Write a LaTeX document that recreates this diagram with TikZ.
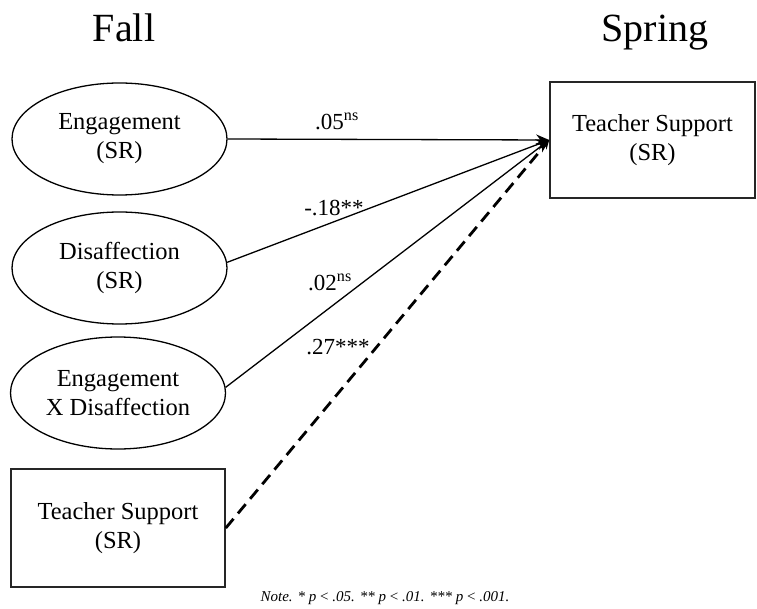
\documentclass[tikz,border=0pt]{standalone}
\usepackage{fontspec}
\setmainfont{Liberation Serif}
\usetikzlibrary{arrows.meta,shapes.geometric}
\begin{document}
\begin{tikzpicture}[x=1pt,y=-1pt,
  lat/.style={draw=black, line width=1.3pt, ellipse, minimum width=215pt, minimum height=112pt,
    inner sep=0pt, align=center, font=\fontsize{24.5}{29}\selectfont},
  obs/.style={draw=black!85, line width=1.6pt, rectangle, inner sep=0pt, align=center,
    font=\fontsize{24.5}{29}\selectfont},
  conn/.style={line width=1.3pt, -{Stealth[length=13pt,width=11pt]}},
  dconn/.style={line width=2.8pt, dash pattern=on 12pt off 7pt, -{Stealth[length=9pt,width=8pt]}},
  lbl/.style={inner sep=0pt, font=\fontsize{23}{27}\selectfont},
  ttl/.style={anchor=base, inner sep=0pt, font=\fontsize{40}{48}\selectfont}]
\useasboundingbox (0,0) rectangle (757,609);
\node[ttl] (fall) at (124,42) {Fall};
\node[ttl] (spring) at (655,42) {Spring};
\node[lat] (e1) at (119.5,139) {Engagement\\(SR)};
\node[lat] (e2) at (119.5,268) {Disaffection\\(SR)};
\node[lat] (e3) at (118,393) {Engagement\\X Disaffection};
\node[obs, minimum width=214pt, minimum height=118pt] (ts1) at (118,528) {Teacher Support\\(SR)};
\node[obs, minimum width=205pt, minimum height=116pt] (ts2) at (652.5,140) {Teacher Support\\(SR)};
\draw[conn] (e1.east) -- (ts2.west);
\draw[conn] (e2.3) -- (ts2.west);
\draw[conn] (e3.3) -- (ts2.west);
\draw[dconn] (ts1.east) -- (ts2.west);
\node[lbl] (l1) at (337,121) {.05\textsuperscript{ns}};
\node[lbl] (l2) at (334,208) {-.18**};
\node[lbl] (l3) at (330,282) {.02\textsuperscript{ns}};
\node[lbl] (l4) at (338,347) {.27***};
\node[inner sep=0pt, font=\fontsize{15}{18}\selectfont\itshape] (note) at (385,598) {Note. * p {\upshape<} .05. ** p {\upshape<} .01. *** p {\upshape<} .001.};
\end{tikzpicture}
\end{document}
